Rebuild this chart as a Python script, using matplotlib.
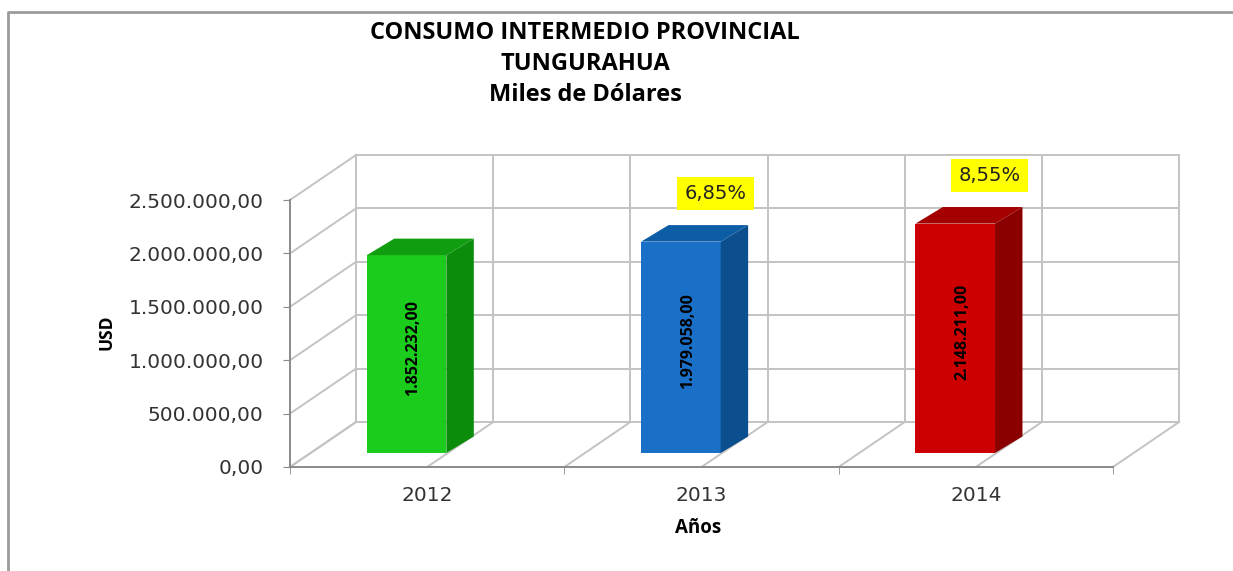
import matplotlib
matplotlib.use('Agg')
import matplotlib.pyplot as plt
from matplotlib.patches import Polygon
from matplotlib.lines import Line2D

# data
years = ['2012', '2013', '2014']
values = [1852232.00, 1979058.00, 2148211.00]
growth = ['', '6,85%', '8,55%']
y_ticks = [0, 500000, 1000000, 1500000, 2000000, 2500000]

face_colors = ['#1ccc1c', '#1a6fc6', '#cc0000']
side_colors = ['#0b8c0b', '#0b4f8e', '#8a0000']
top_colors = ['#109e10', '#0d5ca6', '#a40000']


def fmt(v):
    # 1852232 -> 1.852.232,00
    s = f'{v:,.2f}'
    return s.replace(',', 'X').replace('.', ',').replace('X', '.')


fig = plt.figure(figsize=(12.33, 5.71), dpi=100)
ax = fig.add_axes([290 / 1233, 104 / 571, 823 / 1233, 267 / 571])
ax.set_xlim(0, 3)
ax.set_ylim(0, 2500000)

# depth offset of the back wall (oblique projection) and of the bars
dxw, dyw = 0.2406, 421000
base = 131000
width = 0.29
ddx, ddy = 0.10, 155000
grid_c = '#c3c3c3'

# back wall horizontal gridlines and left wall diagonals
for t in y_ticks:
    ax.add_line(Line2D([dxw, 3 + dxw], [t + dyw, t + dyw], color=grid_c, lw=1.4, clip_on=False, zorder=1))
    ax.add_line(Line2D([0, dxw], [t, t + dyw], color=grid_c, lw=1.4, clip_on=False, zorder=1))

# back wall verticals and floor diagonals every half category
for k in range(7):
    x = k * 0.5
    ax.add_line(Line2D([x + dxw, x + dxw], [dyw, 2500000 + dyw], color=grid_c, lw=1.4, clip_on=False, zorder=1))
    ax.add_line(Line2D([x, x + dxw], [0, dyw], color=grid_c, lw=1.4, clip_on=False, zorder=1))

# 3D looking bars
for i, v in enumerate(values):
    x0 = i + 0.28
    top = base + v
    ax.bar(x0, v, width=width, bottom=base, align='edge', color=face_colors[i], zorder=3, clip_on=False)
    side = [(x0 + width, base), (x0 + width + ddx, base + ddy), (x0 + width + ddx, top + ddy), (x0 + width, top)]
    ax.add_patch(Polygon(side, closed=True, facecolor=side_colors[i], edgecolor='none', zorder=3, clip_on=False))
    lid = [(x0, top), (x0 + ddx, top + ddy), (x0 + width + ddx, top + ddy), (x0 + width, top)]
    ax.add_patch(Polygon(lid, closed=True, facecolor=top_colors[i], edgecolor='none', zorder=3, clip_on=False))
    ax.text(x0 + width / 2 + 0.025, base + v / 2 + 60000, fmt(v), rotation=90, ha='center', va='center',
            fontsize=11.5, fontweight='bold', family='Open Sans', color='black', zorder=4)
    if growth[i]:
        ax.text(i + 0.55, top + 450000, growth[i], ha='center', va='center', fontsize=14, family='DejaVu Sans',
                color='#222222', zorder=5, clip_on=False,
                bbox=dict(boxstyle='square,pad=0.38', facecolor='#ffff00', edgecolor='none'))

# axes styling
for s in ['top', 'right']:
    ax.spines[s].set_visible(False)
ax.spines['left'].set_color('#8a8a8a')
ax.spines['bottom'].set_color('#8a8a8a')
ax.spines['left'].set_linewidth(1.4)
ax.spines['bottom'].set_linewidth(1.4)
ax.patch.set_visible(False)

ax.set_yticks(y_ticks)
ax.set_yticklabels([fmt(t) for t in y_ticks], fontsize=14.5, family='DejaVu Sans', color='#333333')
ax.tick_params(axis='y', length=5, color='#8a8a8a', pad=14)

ax.set_xticks([0.5, 1.5, 2.5])
ax.set_xticklabels(years, fontsize=14.5, family='DejaVu Sans', color='#333333')
ax.set_xticks([0, 1, 2, 3], minor=True)
ax.tick_params(axis='x', which='major', length=0, pad=14)
ax.tick_params(axis='x', which='minor', length=5, color='#8a8a8a')

ax.set_ylabel('USD', fontsize=12.5, fontweight='bold', family='Open Sans')
ax.yaxis.set_label_coords(-0.212, 0.506)
ax.set_xlabel('Años', fontsize=13.5, fontweight='bold', family='Open Sans')
ax.xaxis.set_label_coords(0.496, -0.19)

# title
fig.text(585 / 1233, 1 - 33 / 571, 'CONSUMO INTERMEDIO PROVINCIAL', ha='center', va='center',
         fontsize=17, fontweight='bold', family='Open Sans')
fig.text(585 / 1233, 1 - 64 / 571, 'TUNGURAHUA', ha='center', va='center',
         fontsize=17, fontweight='bold', family='Open Sans')
fig.text(585 / 1233, 1 - 95 / 571, 'Miles de Dólares', ha='center', va='center',
         fontsize=17, fontweight='bold', family='Open Sans')

# chart frame (left and top edges)
fig.add_artist(Line2D([8 / 1233, 8 / 1233, 1.0], [0.0, 1 - 12 / 571, 1 - 12 / 571],
                      transform=fig.transFigure, color='#9a9a9a', lw=2))

fig.savefig('out.png', dpi=100)
